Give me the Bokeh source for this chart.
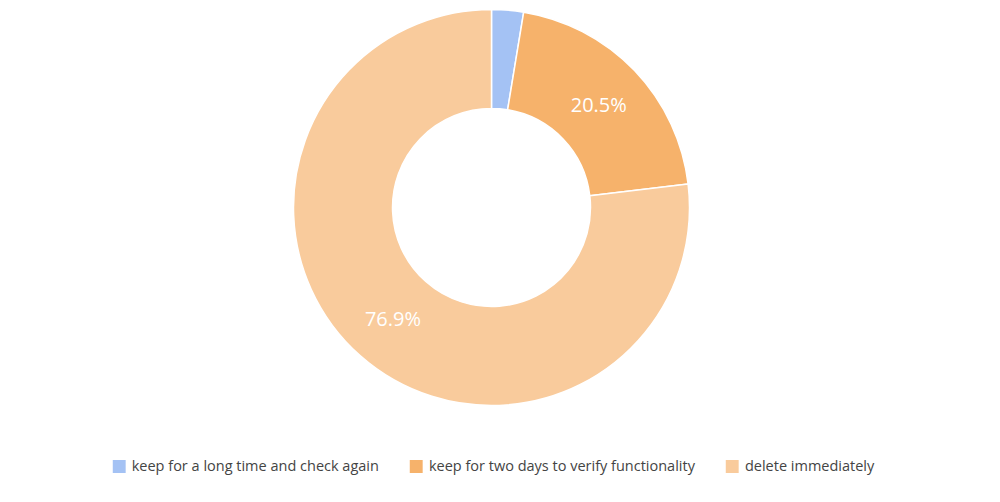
import math
from bokeh.plotting import figure
from bokeh.models import ColumnDataSource, Range1d, Legend, LegendItem
from bokeh.core.properties import value
from bokeh.embed import file_html
from bokeh.resources import INLINE

categories = ["keep for a long time and check again",
              "keep for two days to verify functionality",
              "delete immediately"]
shares = [2.6, 20.5, 76.9]
colors = ["#a4c2f4", "#f6b26b", "#f9cb9c"]

W, H = 984, 486
cx, cy = 491, H - 207
r_out, r_in = 198, 99

total = sum(shares)
starts, ends, lx, ly, labels = [], [], [], [], []
cum = 0.0
for s in shares:
    a0 = math.pi / 2 - cum / total * 2 * math.pi
    cum += s
    a1 = math.pi / 2 - cum / total * 2 * math.pi
    starts.append(a0)
    ends.append(a1)
    mid = (a0 + a1) / 2
    rm = (r_out + r_in) / 2
    lx.append(cx + rm * math.cos(mid))
    ly.append(cy + rm * math.sin(mid))
    labels.append(f"{s / total * 100:.1f}%" if s / total > 0.05 else "")

src = ColumnDataSource(dict(cat=categories, start=starts, end=ends, color=colors,
                            lx=lx, ly=ly, label=labels))

p = figure(width=W, height=H, output_backend="svg", toolbar_location=None,
           x_range=Range1d(0, W), y_range=Range1d(0, H), min_border=0)
p.axis.visible = False
p.grid.visible = False
p.outline_line_color = None
p.background_fill_color = "white"

wedges = p.annular_wedge(x=cx, y=cy, inner_radius=r_in, outer_radius=r_out,
                         start_angle="start", end_angle="end", direction="clock",
                         fill_color="color", line_color="white", line_width=1.5,
                         source=src)

p.text(x="lx", y="ly", text="label", source=src, text_color="white",
       text_font=value("Open Sans"), text_font_size="20px",
       text_align="center", text_baseline="middle")

items = [LegendItem(label=c, renderers=[wedges], index=i) for i, c in enumerate(categories)]
legend = Legend(items=items, orientation="horizontal", location="bottom_center",
                glyph_width=18, glyph_height=18, label_standoff=4, spacing=28,
                padding=0, margin=11, border_line_color=None, background_fill_alpha=0,
                label_text_font="Open Sans", label_text_font_size="14.5px",
                label_text_color="#444444", label_height=18)
p.add_layout(legend, "center")

open("out.html", "w").write(file_html(p, INLINE))
